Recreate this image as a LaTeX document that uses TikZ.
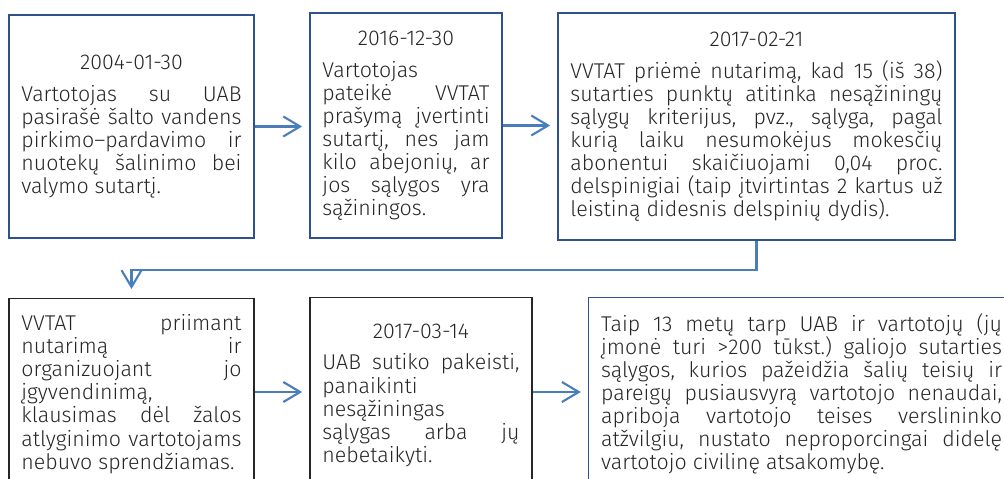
\documentclass[tikz,border=0pt]{standalone}
\usepackage{fontspec}
\setmainfont{Fira Sans Light}
\usetikzlibrary{arrows.meta}

\definecolor{edgeblue}{RGB}{47,82,143}
\definecolor{flowblue}{RGB}{74,126,187}
\definecolor{inkgray}{RGB}{38,38,38}

\newcommand{\evtfont}{\fontsize{15.2}{16.4}\selectfont\frenchspacing
    \hyphenpenalty=10000\exhyphenpenalty=10000\tolerance=10000}
\newcommand{\evtdate}[1]{{\centering #1\par}\vspace{0.22cm}}

\begin{document}
\begin{tikzpicture}[
    x=0.025cm,
    y=-0.025cm,
    >={Straight Barb[length=0.42cm, width=0.5cm]},
    event/.style={
        draw=edgeblue,
        line width=0.9pt,
        text=inkgray,
        align=justify,
        inner xsep=0.3125cm,
        inner ysep=0.1cm,
        font=\evtfont
    },
    eventdark/.style={
        event,
        draw=inkgray
    },
    flow/.style={
        ->,
        draw=flowblue,
        line width=1.5pt,
        shorten >=0.18cm
    }
]
    \useasboundingbox (0,0) rectangle (1004,479);

    % === Events, top row ===
    \node[event, text width=5.5cm, minimum height=5.575cm] (b1) at (131.5,126.5) {%
        \evtdate{2004-01-30}%
        Vartotojas su UAB\linebreak
        pasirašė šalto vandens\linebreak
        pirkimo–pardavimo ir\linebreak
        nuotekų šalinimo bei\linebreak
        valymo sutartį.};
    \node[event, text width=4.175cm, minimum height=5.625cm] (b2) at (406,125.5) {%
        \evtdate{2016-12-30}%
        Vartotojas\linebreak
        pateikė VVTAT\linebreak
        prašymą įvertinti\linebreak
        sutartį, nes jam\linebreak
        kilo abejonių, ar\linebreak
        jos sąlygos yra\linebreak
        sąžiningos.};
    \node[event, text width=9.3cm, minimum height=5.675cm] (b3) at (756.5,126.5) {%
        \evtdate{2017-02-21}%
        VVTAT priėmė nutarimą, kad 15 (iš 38)\linebreak
        sutarties punktų atitinka nesąžiningų\linebreak
        sąlygų kriterijus, pvz., sąlyga, pagal\linebreak
        kurią laiku nesumokėjus mokesčių\linebreak
        abonentui skaičiuojami 0,04 proc.\linebreak
        delspinigiai (taip įtvirtintas 2 kartus už\linebreak
        leistiną didesnis delspinių dydis).};

    % === Events, bottom row ===
    \node[eventdark, text width=5.5cm, anchor=north, inner ysep=0.4cm] (b4) at (131.5,298) {%
        VVTAT priimant\linebreak
        nutarimą ir\linebreak
        organizuojant jo\linebreak
        įgyvendinimą,\linebreak
        klausimas dėl žalos\linebreak
        atlyginimo vartotojams\linebreak
        nebuvo sprendžiamas.};
    \node[eventdark, text width=4.925cm, anchor=north, inner ysep=0.65cm] (b5) at (421,297) {%
        \evtdate{2017-03-14}%
        UAB sutiko pakeisti,\linebreak
        panaikinti\linebreak
        nesąžiningas\linebreak
        sąlygas arba jų\linebreak
        nebetaikyti.};
    \node[event, text width=10.02cm, anchor=north west, inner ysep=0.4cm] (b6) at (588,297) {%
        Taip 13 metų tarp UAB ir vartotojų (jų\linebreak
        įmonė turi >200 tūkst.) galiojo sutarties\linebreak
        sąlygos, kurios pažeidžia šalių teisių ir\linebreak
        pareigų pusiausvyrą vartotojo nenaudai,\linebreak
        apriboja vartotojo teises verslininko\linebreak
        atžvilgiu, nustato neproporcingai didelę\linebreak
        vartotojo civilinę atsakomybę.};

    % === Connectors ===
    \draw[flow] (b1.east) -- (b1.east -| b2.west);
    \draw[flow] (b2.east) -- (b2.east -| b3.west);
    \draw[flow, shorten >=0.225cm] (b3.south) -- ++(0,29) -| (b4.north);
    \draw[flow] (392,392) coordinate (c4) (b4.east |- c4) -- (b5.west |- c4);
    \draw[flow] (b5.east |- c4) -- (b6.west |- c4);

\end{tikzpicture}
\end{document}
